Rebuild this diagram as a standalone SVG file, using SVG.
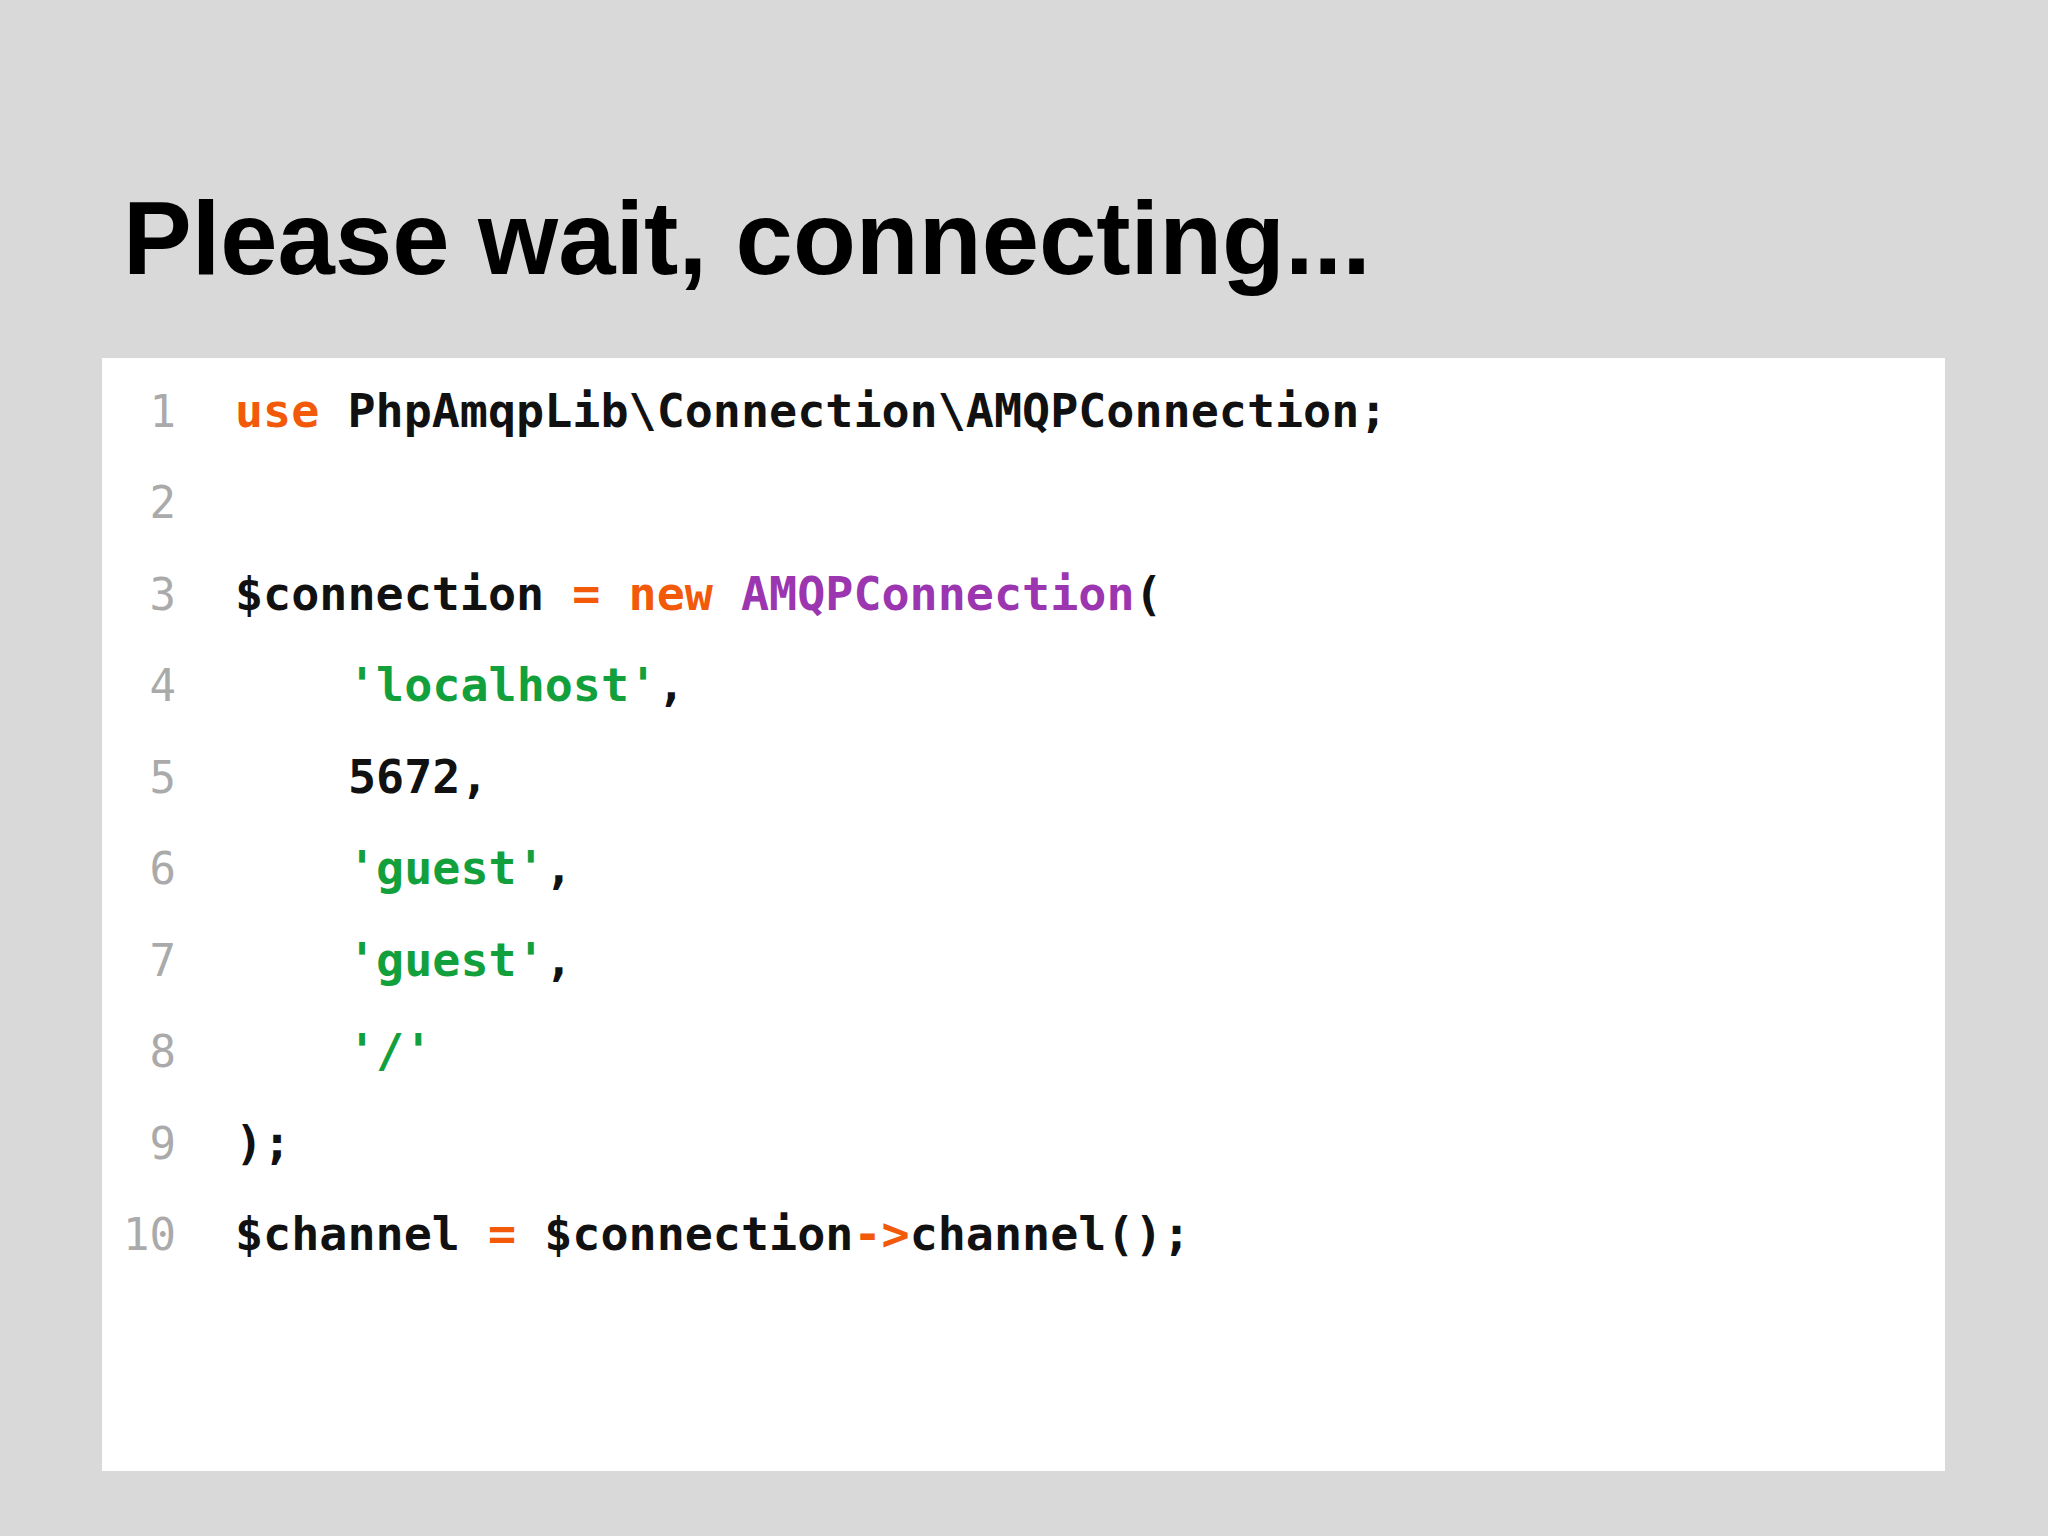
<svg xmlns="http://www.w3.org/2000/svg" width="2048" height="1536" viewBox="0 0 2048 1536">
<style>
.t{font-family:"Liberation Sans",Arial,sans-serif;font-weight:bold;font-size:103px;fill:#000}
.c{font-family:"DejaVu Sans Mono","Liberation Mono",monospace;font-size:46.7px;font-weight:bold;fill:#111;white-space:pre}
.n{font-family:"DejaVu Sans Mono","Liberation Mono",monospace;font-size:44px;fill:#aaaaaa;text-anchor:end}
.k{fill:#f25a0a}.p{fill:#9b36b0}.s{fill:#12a03c}
</style>
<rect width="2048" height="1536" fill="#d9d9d9"/>
<g id="title"><text class="t" x="123" y="274">Please wait, connecting...</text></g>
<g id="code">
<rect x="102" y="358" width="1843" height="1113" fill="#ffffff"/>
<g class="n">
<text x="176" y="427">1</text><text x="176" y="518">2</text><text x="176" y="610">3</text><text x="176" y="701">4</text><text x="176" y="793">5</text><text x="176" y="884">6</text><text x="176" y="976">7</text><text x="176" y="1067">8</text><text x="176" y="1159">9</text><text x="176" y="1250">10</text>
</g>
<text class="c" x="235" y="427"><tspan class="k">use</tspan> PhpAmqpLib\Connection\AMQPConnection;</text>
<text class="c" x="235" y="610">$connection <tspan class="k">=</tspan> <tspan class="k">new</tspan> <tspan class="p">AMQPConnection</tspan>(</text>
<text class="c" x="348" y="701"><tspan class="s">'localhost'</tspan>,</text>
<text class="c" x="348" y="793">5672,</text>
<text class="c" x="348" y="884"><tspan class="s">'guest'</tspan>,</text>
<text class="c" x="348" y="976"><tspan class="s">'guest'</tspan>,</text>
<text class="c" x="348" y="1067"><tspan class="s">'/'</tspan></text>
<text class="c" x="235" y="1159">);</text>
<text class="c" x="235" y="1250">$channel <tspan class="k">=</tspan> $connection<tspan class="k">-&gt;</tspan>channel();</text>
</g>
</svg>
